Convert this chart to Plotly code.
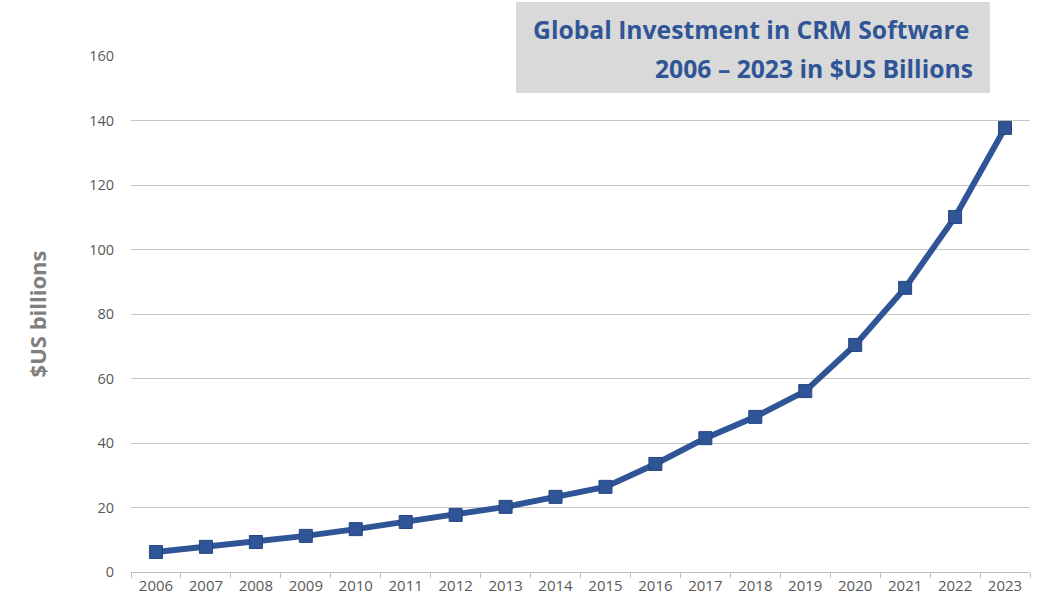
import plotly.graph_objects as go

years = [str(y) for y in range(2006, 2024)]
investment = [6.2, 7.8, 9.3, 11.2, 13.3, 15.5, 17.7, 20.2, 23.3, 26.4,
              33.5, 41.5, 48.1, 56.1, 70.4, 88.1, 110.1, 137.7]
y_ticks = [0, 20, 40, 60, 80, 100, 120, 140, 160]

title_lines = ["Global Investment in CRM Software", "2006 \u2013 2023 in $US Billions"]

BLUE = "#2f5597"
GREY_TXT = "#595959"
FONT = "Open Sans, Lato, sans-serif"

W, H = 1038, 603
L, R, T, B = 131, 8, 56, 31
pw, ph = W - L - R, H - T - B

def px_x(px):
    return (px - L) / pw

def px_y(py):
    return (H - B - py) / ph

fig = go.Figure()
fig.add_trace(go.Scatter(
    x=years, y=investment, mode="lines+markers",
    line=dict(color=BLUE, width=6),
    marker=dict(symbol="square", size=13, color=BLUE,
                line=dict(color="#25467f", width=1)),
    showlegend=False,
))

fig.update_layout(
    width=W, height=H,
    margin=dict(l=L, r=R, t=T, b=B),
    paper_bgcolor="white", plot_bgcolor="white",
    font=dict(family=FONT, color=GREY_TXT, size=14),
    xaxis=dict(
        type="category", showgrid=False, showline=True, linecolor="#bfbfbf",
        linewidth=1, ticks="outside", tickson="boundaries", ticklen=5,
        tickcolor="#bfbfbf", tickfont=dict(size=15, color=GREY_TXT),
        range=[-0.5, len(years) - 0.5], fixedrange=True,
    ),
    yaxis=dict(
        range=[0, 160], tickvals=y_ticks, showgrid=True, gridcolor="#c6c6c6",
        gridwidth=1, zeroline=False, showline=False, ticks="",
        ticklabelstandoff=16,
        tickfont=dict(size=14.5, color=GREY_TXT),
        title=dict(text="<b>$US billions</b>", font=dict(size=22, color="#7f7f7f"),
                   standoff=36),
    ),
)

fig.add_shape(
    type="rect", xref="paper", yref="paper",
    x0=px_x(516), x1=px_x(990), y0=px_y(93), y1=px_y(2),
    fillcolor="#d9d9d9", line=dict(width=0), layer="above",
)
# Title box: one annotation per line, right-aligned
for text, right_px, center_py in zip(title_lines, [971, 975], [30, 68]):
    fig.add_annotation(
        xref="paper", yref="paper", x=px_x(right_px), y=px_y(center_py),
        xanchor="right", yanchor="middle", showarrow=False,
        text="<b>" + text + "</b>",
        font=dict(size=24.7, color=BLUE, family=FONT),
    )

fig.write_html("out.html")
